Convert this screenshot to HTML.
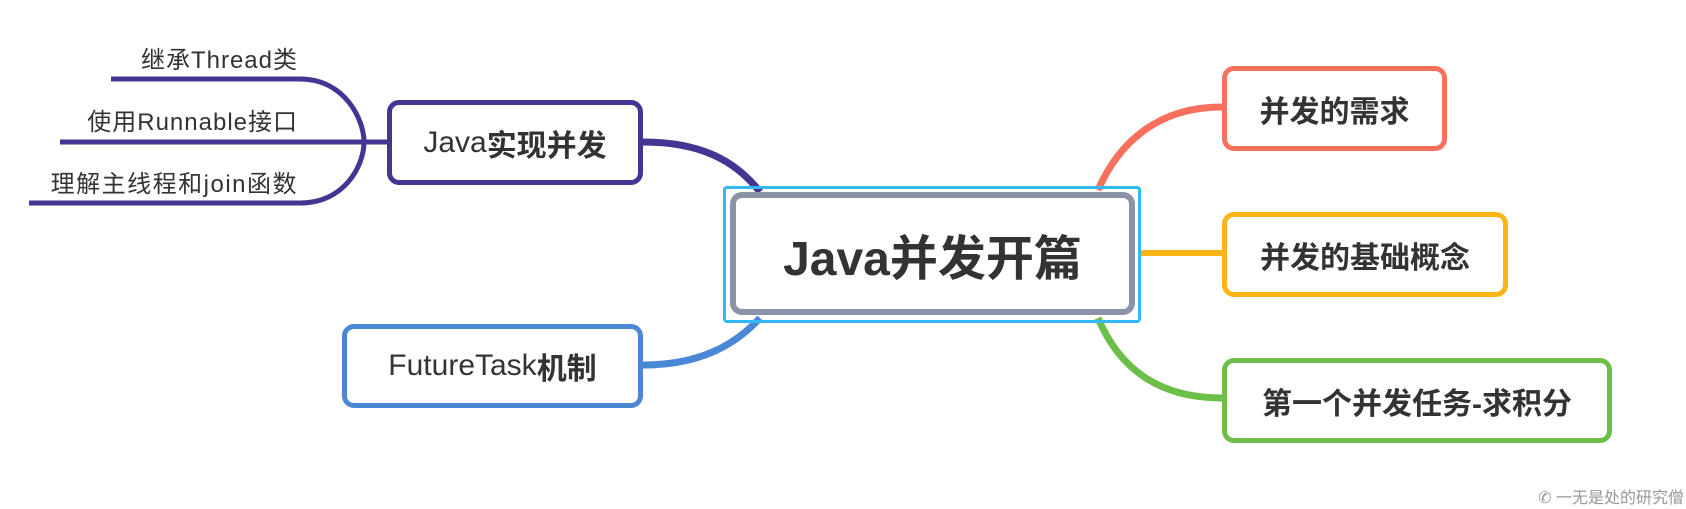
<!DOCTYPE html>
<html><head><meta charset="utf-8"><style>
html,body{margin:0;padding:0;background:#fff;}
body{width:1686px;height:509px;position:relative;overflow:hidden;font-family:"Liberation Sans","Noto Sans CJK SC",sans-serif;color:#333;}
.b{position:absolute;box-sizing:border-box;background:#fff;border-radius:12px;display:flex;align-items:center;justify-content:center;font-weight:bold;font-size:30px;}
.t{position:absolute;font-size:24px;color:#333;white-space:nowrap;text-align:right;right:1388px;}
</style></head><body>
<svg width="1686" height="509" style="position:absolute;left:0;top:0">
<g fill="none" stroke="#443592" stroke-width="5">
<path d="M111 79 H300 C345 79 364 120 364 142"/>
<path d="M60 142 H387"/>
<path d="M29 203 H300 C345 203 364 165 364 142"/>
</g>
<path d="M643 142 C700 142 735 160 760 192" fill="none" stroke="#443592" stroke-width="7"/>
<path d="M643 365 C700 365 735 345 760 318" fill="none" stroke="#4a88d6" stroke-width="7"/>
<path d="M1222 107 C1160 107 1120 140 1098 190" fill="none" stroke="#fb6f5d" stroke-width="7"/>
<path d="M1140 253 H1222" fill="none" stroke="#fdb515" stroke-width="6"/>
<path d="M1222 398 C1160 398 1120 370 1098 318" fill="none" stroke="#6cc04a" stroke-width="7"/>
</svg>
<div class="t" style="top:40px;letter-spacing:1px">继承Thread类</div>
<div class="t" style="top:102px;letter-spacing:1px">使用Runnable接口</div>
<div class="t" style="top:164px;letter-spacing:1.5px">理解主线程和join函数</div>
<div class="b" style="left:387px;top:100px;width:256px;height:85px;border:5px solid #443592;"><span style="font-weight:normal">Java</span>实现并发</div>
<div class="b" style="left:342px;top:324px;width:301px;height:84px;border:5px solid #4a88d6;"><span style="font-weight:normal">FutureTask</span>机制</div>
<div style="position:absolute;left:723px;top:186px;width:418px;height:137px;box-sizing:border-box;border:3px solid #30b9f5;border-radius:4px;"></div>
<div class="b" style="left:730px;top:192px;width:405px;height:123px;border:6px solid #8a94a6;font-size:48px;">Java并发开篇</div>
<div class="b" style="left:1222px;top:66px;width:225px;height:85px;border:5px solid #fb6f5d;">并发的需求</div>
<div class="b" style="left:1222px;top:212px;width:286px;height:85px;border:5px solid #fdb515;">并发的基础概念</div>
<div class="b" style="left:1222px;top:358px;width:390px;height:85px;border:5px solid #6cc04a;">第一个并发任务-求积分</div>
<div style="position:absolute;right:2px;top:484px;font-size:16px;color:#999;white-space:nowrap;">✆ 一无是处的研究僧</div>
</body></html>
